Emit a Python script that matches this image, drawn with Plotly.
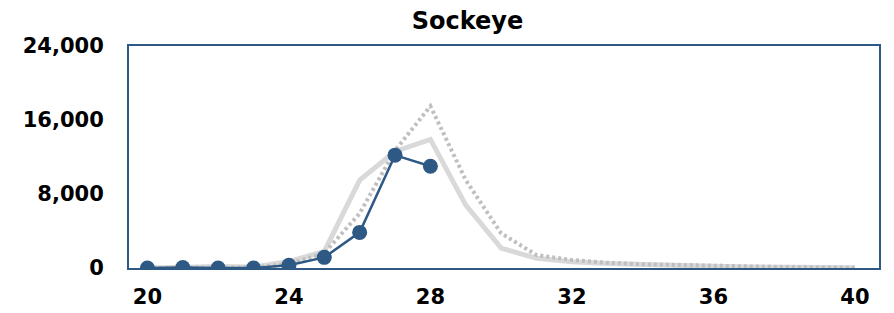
import plotly.graph_objects as go

weeks = list(range(20, 41))
observed_weeks = list(range(20, 29))
observed = [0, 50, 0, 0, 300, 1150, 3850, 12200, 11000]
average = [0, 100, 150, 100, 700, 1800, 9500, 12600, 13900, 6800, 2150, 1050,
           680, 500, 350, 250, 180, 120, 80, 50, 20]
previous = [0, 50, 80, 50, 450, 1600, 5900, 12700, 17500, 9500, 3750, 1400,
            860, 570, 400, 300, 200, 150, 100, 60, 30]

x_ticks = [20, 24, 28, 32, 36, 40]
y_ticks = [0, 8000, 16000, 24000]
y_tick_labels = ["0", "8,000", "16,000", "24,000"]

blue = "#2E5985"
font = "DejaVu Sans"

fig = go.Figure()
fig.add_trace(go.Scatter(x=weeks, y=average, mode="lines",
                         line=dict(color="#D9D9D9", width=5), hoverinfo="skip"))
fig.add_trace(go.Scatter(x=weeks, y=previous, mode="lines",
                         line=dict(color="#BFBFBF", width=4, dash="3px,3px"),
                         hoverinfo="skip"))
fig.add_trace(go.Scatter(x=observed_weeks, y=observed, mode="lines+markers",
                         line=dict(color=blue, width=2.5),
                         marker=dict(color=blue, size=15)))

fig.update_layout(
    width=886, height=305,
    margin=dict(l=121, r=15, t=38, b=45),
    paper_bgcolor="white", plot_bgcolor="white",
    showlegend=False,
    title=dict(text="<b>Sockeye</b>", x=(467.5 - 8) / 886, xref="container",
               xanchor="center",
               y=1 - 13 / 305, yref="container", yanchor="middle",
               font=dict(family=font, size=24, color="black")),
    font=dict(family=font, color="black"),
)
fig.update_xaxes(range=[19.48, 40.68], tickvals=x_ticks, showgrid=False,
                 zeroline=False, showline=True, linecolor=blue, linewidth=2,
                 mirror=True, ticks="", ticklabelstandoff=9, automargin=False,
                 tickfont=dict(family=font, size=21, color="black", weight="bold"))
fig.update_yaxes(range=[0, 24000], tickvals=y_ticks, ticktext=y_tick_labels,
                 showgrid=False, zeroline=False, showline=True, linecolor=blue,
                 linewidth=2, mirror=True, ticks="", ticklen=0, ticklabelstandoff=19,
                 automargin=False,
                 tickfont=dict(family=font, size=21, color="black", weight="bold"))

fig.write_html("out.html")
